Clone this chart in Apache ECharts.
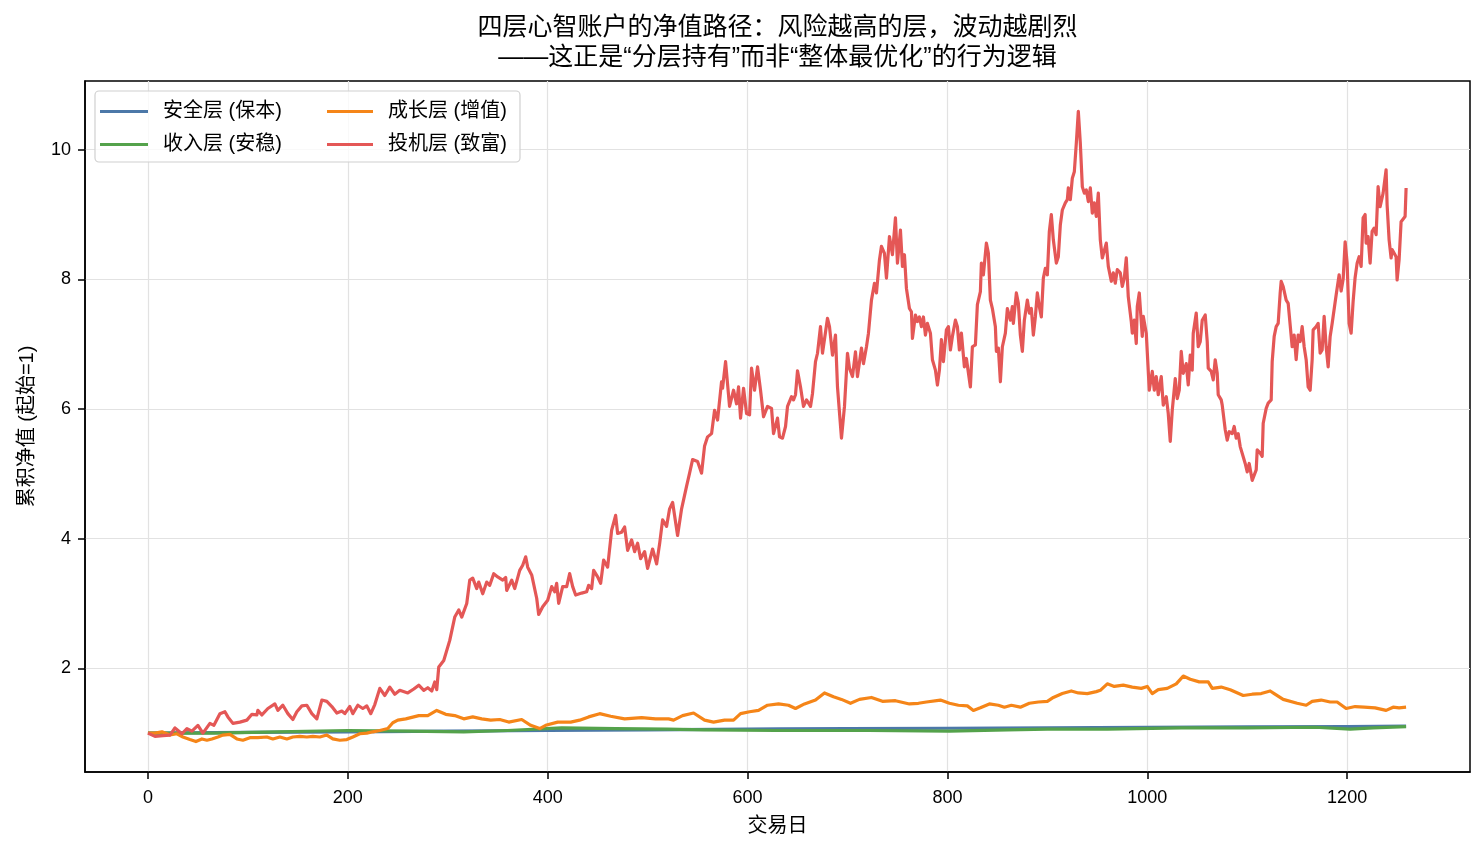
<!DOCTYPE html>
<html lang="zh">
<head>
    <meta charset="UTF-8">
    <title>四层心智账户的净值路径</title>
    <script src="https://cdn.jsdelivr.net/npm/echarts@6/dist/echarts.min.js"></script>
    <style>
        html, body { margin: 0; padding: 0; background: #fff; }
        #chart { width: 1484px; height: 853px; }
    </style>
</head>
<body>
<div id="chart"></div>
<script>
    // [交易日, 累积净值] 从图上读出
    const safeLayer = [
        [0,1.00],[100,1.01],[200,1.02],[300,1.03],[400,1.04],[500,1.05],[632,1.065],
        [700,1.07],[800,1.075],[900,1.08],[1000,1.09],[1100,1.095],[1200,1.10],[1259,1.11]
    ];

    const incomeLayer = [
        [0,1.00],[66,1.00],[130,1.02],[200,1.04],[260,1.03],[316,1.02],[360,1.04],[414,1.08],
        [468,1.07],[520,1.06],[557,1.05],[628,1.04],[721,1.04],[802,1.03],[860,1.05],[900,1.06],
        [960,1.06],[1034,1.08],[1100,1.08],[1168,1.09],[1203,1.06],[1226,1.08],[1259,1.10]
    ];

    const growthLayer = [
        [0,1.00],[7,1.00],[14,1.02],[22,0.97],[29,0.99],[35,0.94],[42,0.90],[48,0.87],[54,0.91],
        [59,0.89],[64,0.91],[70,0.94],[75,0.97],[82,0.98],[89,0.91],[95,0.89],[102,0.93],[110,0.93],
        [119,0.94],[125,0.91],[132,0.94],[139,0.91],[145,0.94],[152,0.95],[159,0.94],[165,0.95],
        [172,0.94],[179,0.97],[185,0.91],[192,0.89],[199,0.90],[205,0.94],[212,0.99],[219,1.00],
        [225,1.02],[232,1.04],[240,1.07],[245,1.16],[250,1.20],[258,1.22],[271,1.27],[280,1.27],
        [289,1.35],[298,1.29],[307,1.27],[316,1.22],[325,1.25],[334,1.22],[343,1.20],[352,1.21],
        [361,1.17],[374,1.21],[383,1.12],[392,1.07],[398,1.12],[410,1.17],[423,1.17],[432,1.20],
        [441,1.25],[452,1.30],[463,1.26],[477,1.22],[494,1.24],[508,1.22],[521,1.22],[526,1.20],
        [535,1.27],[546,1.31],[557,1.20],[566,1.17],[577,1.20],[586,1.20],[593,1.30],[602,1.33],
        [611,1.35],[620,1.43],[631,1.45],[641,1.43],[648,1.38],[657,1.45],[668,1.51],[677,1.62],
        [686,1.56],[694,1.52],[703,1.46],[712,1.52],[724,1.55],[735,1.49],[748,1.50],[762,1.45],
        [771,1.46],[779,1.48],[793,1.51],[802,1.46],[811,1.43],[820,1.42],[826,1.35],[833,1.39],
        [842,1.45],[851,1.43],[857,1.40],[864,1.43],[873,1.40],[882,1.46],[891,1.48],[900,1.49],
        [906,1.55],[915,1.61],[924,1.65],[931,1.62],[940,1.61],[949,1.64],[953,1.66],[960,1.76],
        [967,1.72],[976,1.74],[985,1.71],[994,1.69],[1000,1.72],[1005,1.61],[1011,1.67],[1020,1.69],
        [1029,1.76],[1036,1.88],[1043,1.83],[1052,1.79],[1061,1.79],[1065,1.69],[1074,1.71],
        [1083,1.67],[1096,1.58],[1105,1.60],[1114,1.61],[1123,1.65],[1127,1.61],[1136,1.52],
        [1150,1.46],[1159,1.43],[1165,1.49],[1174,1.51],[1183,1.48],[1190,1.48],[1199,1.38],
        [1208,1.41],[1217,1.40],[1228,1.39],[1239,1.35],[1246,1.40],[1252,1.39],[1259,1.40]
    ];

    const speculativeLayer = [
        [0,1.00],[7,0.95],[15,0.96],[22,0.97],[27,1.08],[34,0.99],[39,1.07],[44,1.03],[50,1.12],
        [55,1.00],[62,1.15],[66,1.12],[72,1.30],[77,1.33],[80,1.25],[85,1.15],[92,1.17],[99,1.20],
        [104,1.29],[109,1.28],[110,1.35],[114,1.28],[120,1.38],[127,1.45],[130,1.35],[135,1.43],
        [140,1.30],[145,1.21],[149,1.33],[154,1.42],[159,1.43],[164,1.30],[169,1.22],[174,1.51],
        [179,1.49],[184,1.41],[189,1.31],[194,1.34],[197,1.30],[202,1.41],[205,1.30],[210,1.43],
        [215,1.38],[219,1.42],[223,1.30],[227,1.44],[232,1.69],[237,1.58],[242,1.71],[247,1.60],
        [252,1.66],[260,1.62],[266,1.68],[271,1.74],[276,1.66],[280,1.70],[284,1.65],[287,1.79],
        [289,1.67],[291,2.02],[296,2.12],[302,2.43],[307,2.79],[311,2.90],[314,2.79],[319,3.00],
        [322,3.36],[325,3.39],[329,3.23],[331,3.33],[335,3.15],[339,3.33],[342,3.28],[346,3.46],
        [350,3.41],[355,3.36],[358,3.40],[359,3.20],[364,3.36],[367,3.23],[372,3.51],[375,3.59],
        [378,3.72],[380,3.56],[384,3.44],[386,3.41],[389,3.08],[391,2.83],[395,2.95],[400,3.05],
        [404,3.26],[407,3.18],[409,3.31],[411,3.00],[415,3.26],[419,3.26],[422,3.46],[425,3.26],
        [428,3.13],[434,3.16],[439,3.18],[441,3.28],[444,3.23],[446,3.51],[450,3.41],[453,3.31],
        [456,3.67],[460,3.56],[464,4.13],[468,4.36],[470,4.08],[474,4.10],[477,4.18],[480,3.82],
        [484,3.98],[487,3.80],[490,3.93],[493,3.69],[497,3.80],[500,3.54],[505,3.84],[509,3.61],
        [512,3.92],[515,4.29],[519,4.19],[522,4.46],[525,4.56],[530,4.05],[534,4.46],[539,4.81],
        [542,5.01],[545,5.22],[550,5.19],[554,5.01],[557,5.43],[560,5.57],[564,5.62],[567,5.98],
        [570,5.83],[574,6.42],[575,6.32],[578,6.73],[582,6.04],[586,6.29],[589,6.08],[591,6.34],
        [593,5.86],[596,6.32],[599,5.93],[602,5.91],[604,6.63],[607,6.29],[610,6.65],[613,6.29],
        [616,5.88],[620,6.04],[624,6.01],[626,5.62],[630,5.86],[632,5.57],[635,5.55],[638,5.73],
        [640,6.04],[644,6.19],[646,6.14],[648,6.22],[650,6.59],[653,6.34],[656,6.04],[659,6.14],
        [663,6.04],[665,6.24],[668,6.73],[670,6.86],[673,7.27],[675,6.86],[680,7.40],[682,7.27],
        [685,6.83],[688,7.14],[690,6.34],[694,5.55],[697,6.04],[700,6.86],[702,6.63],[705,6.50],
        [708,6.88],[710,6.50],[714,6.94],[716,6.70],[719,6.96],[721,7.17],[724,7.68],[727,7.94],
        [729,7.79],[732,8.30],[734,8.51],[737,8.40],[739,8.02],[742,8.66],[745,8.38],[748,8.95],
        [750,8.25],[753,8.76],[755,8.20],[757,8.38],[759,7.86],[762,7.55],[764,7.50],[765,7.09],
        [768,7.45],[770,7.35],[772,7.42],[774,7.27],[776,7.42],[778,7.14],[780,7.32],[783,7.17],
        [785,6.76],[788,6.60],[790,6.37],[792,6.60],[794,7.07],[796,6.73],[799,7.22],[801,7.27],
        [803,6.91],[805,7.12],[808,7.37],[810,7.27],[812,6.91],[814,7.17],[817,6.65],[819,6.78],
        [823,6.34],[825,6.96],[828,6.99],[830,7.61],[833,7.81],[834,8.25],[836,8.07],[839,8.56],
        [841,8.40],[843,7.68],[845,7.55],[848,7.27],[849,6.89],[851,6.94],[853,6.42],[855,6.96],
        [858,7.17],[860,7.55],[863,7.37],[865,7.58],[866,7.32],[869,7.79],[871,7.63],[873,7.14],
        [875,6.89],[877,7.37],[880,7.68],[882,7.48],[884,7.55],[886,7.14],[888,7.42],[890,7.79],
        [892,7.58],[894,7.42],[896,8.02],[898,8.17],[900,8.07],[902,8.74],[904,9.00],[906,8.61],
        [909,8.25],[911,8.35],[913,8.84],[915,9.07],[918,9.18],[920,9.23],[921,9.41],[923,9.23],
        [925,9.56],[927,9.66],[929,10.10],[931,10.59],[933,10.10],[935,9.43],[937,9.33],[939,9.38],
        [941,9.20],[943,9.41],[945,9.02],[947,9.18],[949,8.97],[951,9.33],[953,8.61],[955,8.33],
        [957,8.30],[959,8.56],[961,8.20],[964,7.97],[966,8.10],[968,7.94],[970,8.15],[973,8.10],
        [975,7.89],[977,8.02],[979,8.33],[981,7.73],[984,7.35],[985,7.17],[987,7.37],[989,7.01],
        [990,7.58],[992,7.79],[995,7.12],[996,7.43],[999,7.17],[1002,6.29],[1005,6.58],[1007,6.29],
        [1009,6.50],[1011,6.22],[1014,6.50],[1016,6.06],[1019,6.19],[1021,5.93],[1023,5.50],
        [1025,5.98],[1028,6.47],[1030,6.16],[1032,6.29],[1034,6.89],[1036,6.55],[1039,6.70],
        [1041,6.37],[1043,6.83],[1045,6.60],[1046,7.17],[1049,7.48],[1051,6.96],[1053,7.04],
        [1055,7.37],[1058,7.45],[1060,7.04],[1061,6.63],[1064,6.58],[1066,6.45],[1068,6.76],
        [1070,6.55],[1071,6.22],[1074,6.14],[1075,6.06],[1078,5.68],[1080,5.52],[1082,5.65],
        [1085,5.62],[1087,5.73],[1089,5.55],[1091,5.62],[1093,5.42],[1095,5.39],[1098,5.16],
        [1100,5.03],[1102,5.16],[1105,4.90],[1107,4.98],[1109,5.06],[1110,5.37],[1113,5.32],
        [1115,5.27],[1116,5.78],[1119,6.01],[1121,6.09],[1124,6.14],[1125,6.73],[1127,7.12],
        [1129,7.27],[1131,7.32],[1133,7.79],[1134,7.97],[1136,7.89],[1139,7.68],[1141,7.63],
        [1143,7.63],[1145,6.96],[1147,7.14],[1149,6.76],[1151,7.14],[1153,7.04],[1155,7.27],
        [1157,6.96],[1159,6.76],[1161,6.34],[1163,6.29],[1165,6.76],[1166,7.22],[1169,7.27],
        [1171,7.32],[1173,6.86],[1175,6.91],[1177,7.43],[1179,6.96],[1181,6.65],[1183,7.12],
        [1185,7.32],[1187,7.35],[1189,7.76],[1191,7.79],[1192,8.07],[1194,7.82],[1196,8.00],
        [1198,8.58],[1200,8.25],[1202,7.32],[1204,7.17],[1206,7.66],[1208,8.03],[1210,8.25],
        [1212,8.35],[1214,8.20],[1216,8.95],[1218,9.00],[1219,8.56],[1221,8.66],[1223,8.25],
        [1225,8.74],[1227,8.79],[1229,8.69],[1231,9.43],[1233,9.12],[1235,9.10],[1236,9.33],
        [1239,9.69],[1240,9.15],[1242,8.61],[1244,8.33],[1245,8.46],[1247,8.43],[1249,8.35],
        [1250,7.99],[1252,8.30],[1254,8.89],[1255,8.92],[1258,8.97],[1259,9.41]
    ];

    const seriesNames = ['安全层 (保本)', '收入层 (安稳)', '成长层 (增值)', '投机层 (致富)'];
    const seriesColors = ['#4c78a8', '#54a24b', '#f58518', '#e45756'];
    const xTicks = [0, 200, 400, 600, 800, 1000, 1200];
    const yTicks = [2, 4, 6, 8, 10];

    const FONT = "'Liberation Sans', 'Noto Sans CJK SC', sans-serif";

    const chart = echarts.init(document.getElementById('chart'), null, { renderer: 'canvas' });

    const allData = [safeLayer, incomeLayer, growthLayer, speculativeLayer];
    const series = allData.map((d, i) => ({
        name: seriesNames[i],
        type: 'line',
        data: d,
        showSymbol: false,
        symbol: 'none',
        color: seriesColors[i],
        lineStyle: { width: 3.2, color: seriesColors[i], join: 'round' },
        z: 2 + i
    }));

    const legendBase = {
        orient: 'vertical',
        icon: 'rect',
        itemHeight: 3,
        itemGap: 12,
        selectedMode: false,
        z: 10,
        textStyle: { fontFamily: FONT, fontSize: 20, color: '#000', lineHeight: 21, padding: [0, 0, 0, 10] }
    };

    const plain = v => String(v);
    const axisLineStyle = { show: true, onZero: false, lineStyle: { color: '#000', width: 1.5 } };

    const option = {
        animation: false,
        backgroundColor: '#fff',
        grid: {
            left: 85, right: 14, top: 81, bottom: 81,
            show: true, borderColor: '#000', borderWidth: 1.5, backgroundColor: 'transparent'
        },
        graphic: [
            {
                type: 'text', x: 777.5, y: 28, z: 10,
                style: { text: '四层心智账户的净值路径：风险越高的层，波动越剧烈', fill: '#000',
                         font: '25px ' + FONT, textAlign: 'center', textVerticalAlign: 'middle' }
            },
            {
                type: 'text', x: 777.5, y: 58, z: 10,
                style: { text: '——这正是“分层持有”而非“整体最优化”的行为逻辑', fill: '#000',
                         font: '25px ' + FONT, textAlign: 'center', textVerticalAlign: 'middle' }
            },
            {
                type: 'rect', z: 8,
                shape: { x: 95, y: 91, width: 425, height: 71, r: 4 },
                style: { fill: 'rgba(255,255,255,0.8)', stroke: '#d0d0d0', lineWidth: 1.2 }
            }
        ],
        legend: [
            Object.assign({}, legendBase, { left: 95, top: 96, itemWidth: 48, data: [seriesNames[0], seriesNames[1]] }),
            Object.assign({}, legendBase, { left: 322, top: 96, itemWidth: 46, data: [seriesNames[2], seriesNames[3]] })
        ],
        xAxis: {
            type: 'value',
            min: -63,
            max: 1322.95,
            name: '交易日',
            nameLocation: 'middle',
            nameGap: 44,
            nameTextStyle: { fontFamily: FONT, fontSize: 20, color: '#000' },
            axisLine: axisLineStyle,
            axisTick: { show: true, length: 7, inside: false, customValues: xTicks,
                        lineStyle: { color: '#000', width: 1.5 } },
            axisLabel: { customValues: xTicks, formatter: plain, margin: 17, fontFamily: FONT, fontSize: 18, color: '#000' },
            splitLine: { show: true, lineStyle: { color: '#e2e2e2', width: 1.2 } }
        },
        yAxis: {
            type: 'value',
            min: 0.4,
            max: 11.06,
            name: '累积净值 (起始=1)',
            nameLocation: 'middle',
            nameGap: 48,
            nameTextStyle: { fontFamily: FONT, fontSize: 20, color: '#000' },
            axisLine: axisLineStyle,
            axisTick: { show: true, length: 7, inside: false, customValues: yTicks,
                        lineStyle: { color: '#000', width: 1.5 } },
            axisLabel: { customValues: yTicks, formatter: plain, margin: 14, fontFamily: FONT, fontSize: 18, color: '#000' },
            splitLine: { show: true, lineStyle: { color: '#e2e2e2', width: 1.2 } }
        },
        series: series
    };

    chart.setOption(option);
</script>
</body>
</html>
